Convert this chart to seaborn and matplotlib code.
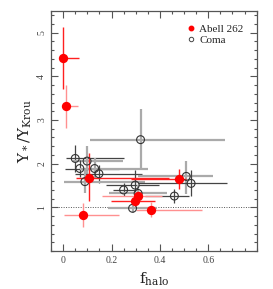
import numpy as np
import matplotlib
matplotlib.use('Agg')
import matplotlib.pyplot as plt
import pandas as pd
import seaborn as sns
from matplotlib.ticker import MultipleLocator

# Abell 262: x, y, x-error (low, high), y-error (low, high)
a262_x = [0.000, 0.010, 0.107, 0.083, 0.480, 0.310, 0.298, 0.363]
a262_y = [4.42, 3.31, 1.67, 0.82, 1.65, 1.26, 1.14, 0.95]
a262_xlo = [0.00, 0.00, 0.055, 0.078, 0.20, 0.15, 0.10, 0.06]
a262_xhi = [0.065, 0.05, 0.33, 0.147, 0.03, 0.10, 0.08, 0.21]
a262_ylo = [0.70, 0.50, 0.52, 0.27, 0.23, 0.12, 0.10, 0.18]
a262_yhi = [0.70, 0.49, 0.58, 0.29, 0.24, 0.12, 0.10, 0.18]

# Coma
coma_x = [0.050, 0.099, 0.069, 0.130, 0.148, 0.090, 0.250, 0.287, 0.298, 0.310, 0.460, 0.509, 0.529, 0.320]
coma_y = [2.12, 2.06, 1.89, 1.89, 1.77, 1.59, 1.40, 0.98, 1.51, 1.32, 1.26, 1.71, 1.55, 2.55]
coma_xlo = [0.04, 0.06, 0.06, 0.06, 0.10, 0.085, 0.045, 0.10, 0.12, 0.12, 0.12, 0.20, 0.22, 0.21]
coma_xhi = [0.20, 0.15, 0.16, 0.22, 0.18, 0.25, 0.05, 0.10, 0.10, 0.12, 0.06, 0.11, 0.15, 0.35]
coma_ylo = [0.30, 0.30, 0.20, 0.25, 0.20, 0.25, 0.15, 0.10, 0.35, 0.20, 0.15, 0.40, 0.30, 0.68]
coma_yhi = [0.30, 0.35, 0.20, 0.25, 0.20, 0.30, 0.15, 0.10, 0.35, 0.20, 0.15, 0.35, 0.30, 0.70]

a262 = pd.DataFrame({'x': a262_x, 'y': a262_y})
coma = pd.DataFrame({'x': coma_x, 'y': coma_y})

sns.set_style('ticks')
plt.rcParams['font.family'] = ['Liberation Serif', 'DejaVu Serif']
plt.rcParams['mathtext.fontset'] = 'dejavuserif'

fig = plt.figure(figsize=(2.73, 2.89), dpi=100)
ax = fig.add_axes([0.187, 0.131, 0.753, 0.832])

coma_cols = ['#444444', '#aaaaaa']
for i in range(len(coma_x)):
    ax.errorbar(coma_x[i], coma_y[i],
                xerr=[[coma_xlo[i]], [coma_xhi[i]]],
                yerr=[[coma_ylo[i]], [coma_yhi[i]]],
                fmt='none', ecolor=coma_cols[i % 2], elinewidth=0.9 if i % 2 == 0 else 1.6,
                capsize=0, zorder=2)

red_cols = ['#ff2020', '#ff9090']
for i in range(len(a262_x)):
    ax.errorbar(a262_x[i], a262_y[i],
                xerr=[[a262_xlo[i]], [a262_xhi[i]]],
                yerr=[[a262_ylo[i]], [a262_yhi[i]]],
                fmt='none', ecolor=red_cols[i % 2], elinewidth=1.0,
                capsize=0, zorder=3)

sns.scatterplot(data=coma, x='x', y='y', ax=ax, s=32, facecolor='none',
                edgecolor='#333333', linewidth=0.8, zorder=4)
sns.scatterplot(data=a262, x='x', y='y', ax=ax, s=45, color='red',
                edgecolor='red', linewidth=0, zorder=5)

ax.axhline(1.0, color='#555555', linestyle=(0, (1, 1.5)), linewidth=0.7, zorder=1)

ax.set_xlim(-0.05, 0.8)
ax.set_ylim(0, 5.5)
ax.xaxis.set_major_locator(MultipleLocator(0.2))
ax.xaxis.set_minor_locator(MultipleLocator(0.05))
ax.yaxis.set_major_locator(MultipleLocator(1))
ax.yaxis.set_minor_locator(MultipleLocator(0.2))
ax.set_xticks([0, 0.2, 0.4, 0.6])
ax.set_xticklabels(['0', '0.2', '0.4', '0.6'])
ax.set_yticks([1, 2, 3, 4, 5])
ax.tick_params(which='both', direction='in', top=True, right=True,
               labelsize=7, colors='#555555', labelcolor='#444444', width=0.8)
ax.tick_params(which='major', length=5)
ax.tick_params(which='minor', length=2.5)
for lab in ax.get_yticklabels():
    lab.set_rotation(90)
    lab.set_va('center')
for s in ax.spines.values():
    s.set_color('#555555')
    s.set_linewidth(0.9)

ax.set_xlabel(r'$\mathrm{f}_{\mathrm{halo}}$', fontsize=11, color='#222222', labelpad=4)
ax.set_ylabel(r'$\Upsilon_*/\Upsilon_{\mathrm{Krou}}$', fontsize=11, color='#222222', labelpad=2)

ax.plot([], [], 'o', color='red', markersize=3.2, label='Abell 262')
ax.plot([], [], 'o', mfc='none', mec='#444444', markersize=3.2, mew=0.7, label='Coma')
ax.legend(loc='upper right', fontsize=8, frameon=False, handletextpad=0.4,
          handlelength=0.6, borderaxespad=0.8, labelspacing=0.15)

fig.savefig('out.png', dpi=100)
